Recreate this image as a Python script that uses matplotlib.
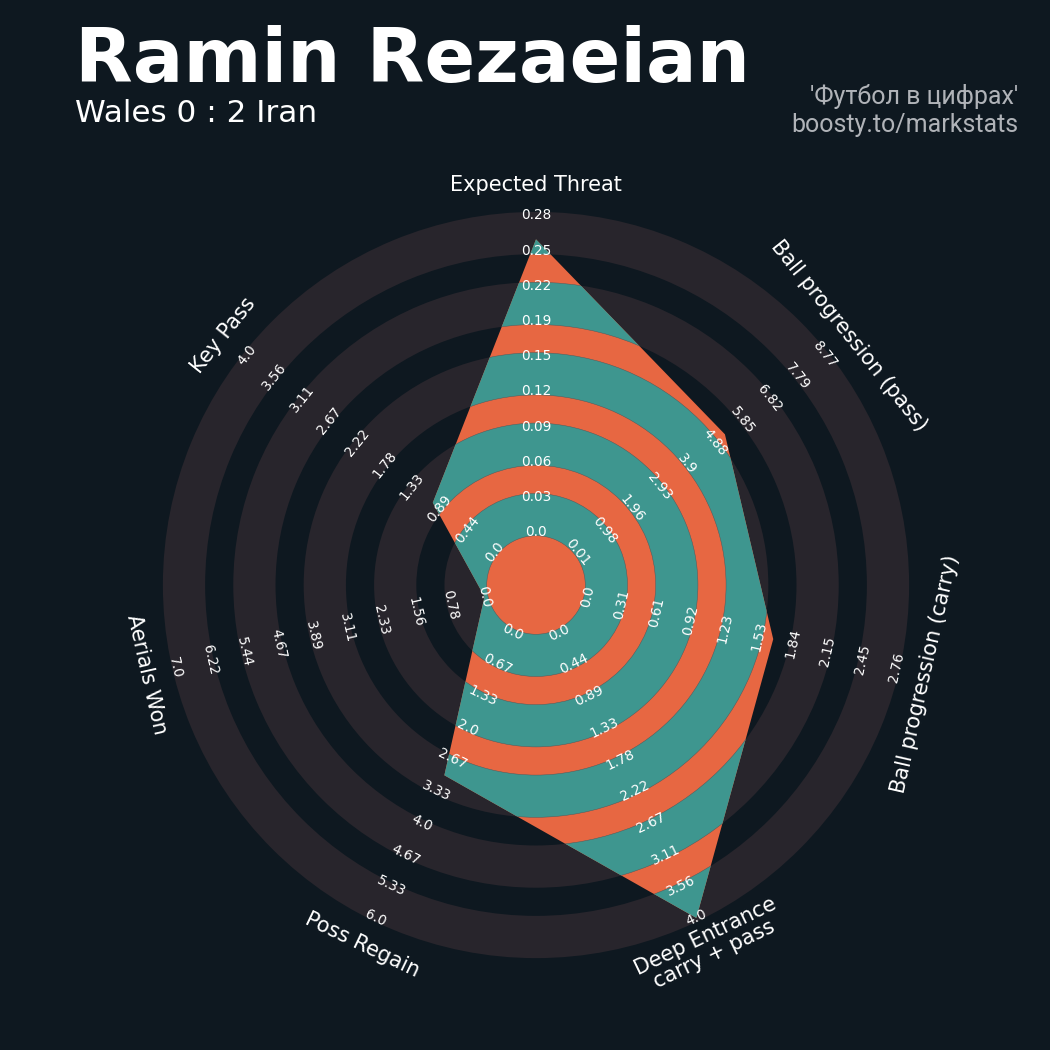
import numpy as np
import matplotlib
matplotlib.use("Agg")
import matplotlib.pyplot as plt
from matplotlib.patches import Wedge, Circle, Polygon

# ---------------- data ----------------
params = ["Expected Threat", "Ball progression (pass)", "Ball progression (carry)",
          "Deep Entrance\ncarry + pass", "Poss Regain", "Aerials Won", "Key Pass"]
low = [0.0, 0.012, 0.0, 0.0, 0.0, 0.0, 0.0]
high = [0.278, 8.765, 2.76, 4.0, 6.0, 7.0, 4.0]
values = [0.257, 5.23, 1.66, 4.0, 3.0, 0.0, 1.0]

labels_xt = ["0.0", "0.03", "0.06", "0.09", "0.12", "0.15", "0.19", "0.22", "0.25", "0.28"]
labels_pass = ["0.01", "0.98", "1.96", "2.93", "3.9", "4.88", "5.85", "6.82", "7.79", "8.77"]
labels_carry = ["0.0", "0.31", "0.61", "0.92", "1.23", "1.53", "1.84", "2.15", "2.45", "2.76"]
labels_deep = ["0.0", "0.44", "0.89", "1.33", "1.78", "2.22", "2.67", "3.11", "3.56", "4.0"]
labels_regain = ["0.0", "0.67", "1.33", "2.0", "2.67", "3.33", "4.0", "4.67", "5.33", "6.0"]
labels_aerial = ["0.0", "0.78", "1.56", "2.33", "3.11", "3.89", "4.67", "5.44", "6.22", "7.0"]
labels_key = ["0.0", "0.44", "0.89", "1.33", "1.78", "2.22", "2.67", "3.11", "3.56", "4.0"]
range_labels = [labels_xt, labels_pass, labels_carry, labels_deep,
                labels_regain, labels_aerial, labels_key]

title = "Ramin Rezaeian"
subtitle = "Wales 0 : 2 Iran"
credit1 = "'Футбол в цифрах'"
credit2 = "boosty.to/markstats"

# ---------------- style ----------------
BG = "#0e1820"
RING = "#28252c"
TEAL = "#3e968f"
ORANGE = "#e76742"

# geometry (radar units)
r_center = 1.4
ring_bounds = [(1.4, 2.6), (3.4, 4.6), (5.4, 6.6), (7.4, 8.6), (9.4, 10.6)]
r_min, r_max = 1.5, 10.5
r_param = 11.36
px = 35.2  # pixels per unit
cx, cy = 536, 585

fig = plt.figure(figsize=(10.5, 10.5), dpi=100, facecolor=BG)
ax = fig.add_axes([0, 0, 1, 1])
ax.set_facecolor(BG)
ax.set_xlim(-cx / px, (1050 - cx) / px)
ax.set_ylim(-(1050 - cy) / px, cy / px)
ax.set_aspect("equal")
ax.axis("off")

# background rings
ax.add_patch(Circle((0, 0), r_center, facecolor=RING, edgecolor="none", zorder=1))
for rin, rout in ring_bounds:
    ax.add_patch(Wedge((0, 0), rout, 0, 360, width=rout - rin,
                       facecolor=RING, edgecolor="none", zorder=1))

n = len(params)
theta = np.arange(n) * 2 * np.pi / n          # clockwise from top
ang = np.pi / 2 - theta                        # math angle

# radar polygon
radii = [r_min + (v - lo) / (hi - lo) * (r_max - r_min)
         for v, lo, hi in zip(values, low, high)]
verts = np.column_stack([np.array(radii) * np.cos(ang), np.array(radii) * np.sin(ang)])
poly = Polygon(verts, closed=True, facecolor=ORANGE, edgecolor="none", zorder=2)
ax.add_patch(poly)
for rin, rout in ring_bounds:
    w = Wedge((0, 0), rout, 0, 360, width=rout - rin, facecolor=TEAL,
              edgecolor="#4f5a5c", lw=0.35, zorder=3)
    ax.add_patch(w)
    w.set_clip_path(poly)

# range labels and param labels
for i in range(n):
    deg = np.degrees(theta[i])
    rot = -deg
    if 90 < deg < 270:
        rot += 180
    labs = range_labels[i]
    pos = np.linspace(r_min, r_max, len(labs))
    for lab, r in zip(labs, pos):
        ax.text(r * np.cos(ang[i]), r * np.sin(ang[i]), lab, rotation=rot,
                rotation_mode="anchor", ha="center", va="center",
                color="white", fontsize=9.8, zorder=5)
    ax.text(r_param * np.cos(ang[i]), r_param * np.sin(ang[i]), params[i],
            rotation=rot, rotation_mode="anchor", ha="center", va="center",
            color="white", fontsize=15, zorder=5, multialignment="center",
            linespacing=1.0)

# titles
fig.text(75 / 1050, 1 - 82 / 1050, title, fontsize=54, fontweight="bold",
         color="white", ha="left", va="baseline")
fig.text(75 / 1050, 1 - 122 / 1050, subtitle, fontsize=22.4,
         color="white", ha="left", va="baseline")
fig.text(1018 / 1050, 1 - 104 / 1050, credit1, fontsize=18, family="Roboto",
         color="#b0b3b8", ha="right", va="baseline")
fig.text(1018 / 1050, 1 - 132 / 1050, credit2, fontsize=18, family="Roboto",
         color="#b0b3b8", ha="right", va="baseline")

fig.savefig("out.png", dpi=100, facecolor=BG)
